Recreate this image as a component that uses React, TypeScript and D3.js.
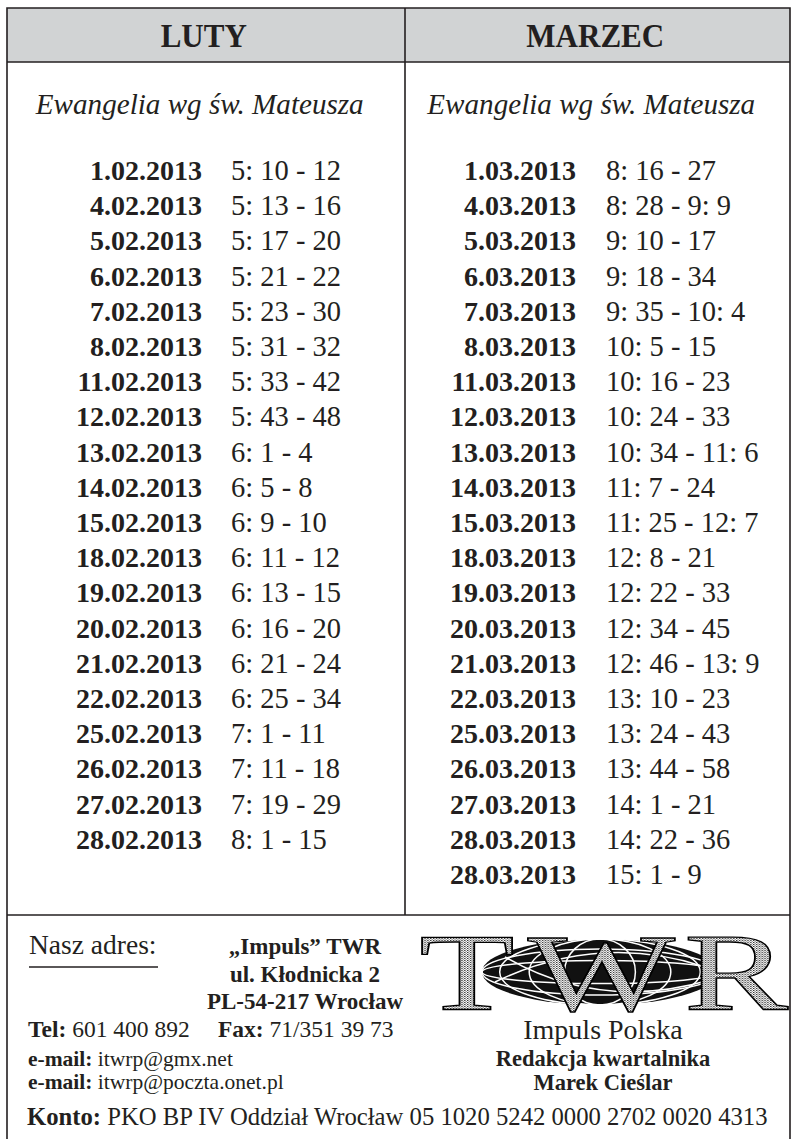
import { useEffect, useRef } from "react";
import * as d3 from "d3";

// months shown in the two table columns
const months = ["LUTY", "MARZEC"];
const subtitle = "Ewangelia wg św. Mateusza";

const lutyDates = [
  "1.02.2013", "4.02.2013", "5.02.2013", "6.02.2013", "7.02.2013", "8.02.2013",
  "11.02.2013", "12.02.2013", "13.02.2013", "14.02.2013", "15.02.2013", "18.02.2013",
  "19.02.2013", "20.02.2013", "21.02.2013", "22.02.2013", "25.02.2013", "26.02.2013",
  "27.02.2013", "28.02.2013",
];
const lutyVerses = [
  "5: 10 - 12", "5: 13 - 16", "5: 17 - 20", "5: 21 - 22", "5: 23 - 30", "5: 31 - 32",
  "5: 33 - 42", "5: 43 - 48", "6: 1 - 4", "6: 5 - 8", "6: 9 - 10", "6: 11 - 12",
  "6: 13 - 15", "6: 16 - 20", "6: 21 - 24", "6: 25 - 34", "7: 1 - 11", "7: 11 - 18",
  "7: 19 - 29", "8: 1 - 15",
];
const marzecDates = [
  "1.03.2013", "4.03.2013", "5.03.2013", "6.03.2013", "7.03.2013", "8.03.2013",
  "11.03.2013", "12.03.2013", "13.03.2013", "14.03.2013", "15.03.2013", "18.03.2013",
  "19.03.2013", "20.03.2013", "21.03.2013", "22.03.2013", "25.03.2013", "26.03.2013",
  "27.03.2013", "28.03.2013", "28.03.2013",
];
const marzecVerses = [
  "8: 16 - 27", "8: 28 - 9: 9", "9: 10 - 17", "9: 18 - 34", "9: 35 - 10: 4", "10: 5 - 15",
  "10: 16 - 23", "10: 24 - 33", "10: 34 - 11: 6", "11: 7 - 24", "11: 25 - 12: 7", "12: 8 - 21",
  "12: 22 - 33", "12: 34 - 45", "12: 46 - 13: 9", "13: 10 - 23", "13: 24 - 43", "13: 44 - 58",
  "14: 1 - 21", "14: 22 - 36", "15: 1 - 9",
];

// footer texts
const address = ["„Impuls” TWR", "ul. Kłodnicka 2", "PL-54-217 Wrocław"];
const emails = ["itwrp@gmx.net", "itwrp@poczta.onet.pl"];
const editor = ["Redakcja kwartalnika", "Marek Cieślar"];
const logoLetters = ["T", "W", "R"];

const INK = "#231f20";
const SERIF = "'Liberation Serif', 'DejaVu Serif', serif";

function App() {
  const ref = useRef(null);

  useEffect(() => {
    const svg = d3.select(ref.current);
    svg.selectAll("*").remove();
    const W = 795, H = 1139;
    const left = 7, right = 790, top = 8, headBottom = 62, mid = 405, tableBottom = 915;

    // stipple pattern for the logo letters
    const defs = svg.append("defs");
    const pat = defs.append("pattern").attr("id", "stip").attr("width", 2).attr("height", 2)
      .attr("patternUnits", "userSpaceOnUse");
    pat.append("rect").attr("width", 2).attr("height", 2).attr("fill", "#fff");
    pat.append("rect").attr("width", 1).attr("height", 1).attr("fill", "#333");
    pat.append("rect").attr("x", 1).attr("y", 1).attr("width", 1).attr("height", 1).attr("fill", "#999");

    svg.append("rect").attr("width", W).attr("height", H).attr("fill", "#fff");

    // header band
    svg.append("rect").attr("x", left).attr("y", top).attr("width", right - left)
      .attr("height", headBottom - top).attr("fill", "#d1d3d4");

    const lines = svg.append("g").attr("stroke", INK).attr("stroke-width", 1.6).attr("fill", "none");
    lines.append("path").attr("d", `M${left},${H + 5}V${top}H${right}V${H + 5}`);
    lines.append("line").attr("x1", left).attr("x2", right).attr("y1", headBottom).attr("y2", headBottom);
    lines.append("line").attr("x1", left).attr("x2", right).attr("y1", tableBottom).attr("y2", tableBottom);
    lines.append("line").attr("x1", mid).attr("x2", mid).attr("y1", top).attr("y2", tableBottom);

    const colX = d3.scaleBand().domain(months).range([left, right]).paddingInner(0);
    const centre = (m) => colX(m) + colX.bandwidth() / 2;

    const txt = svg.append("g").attr("font-family", SERIF).attr("fill", INK);

    txt.selectAll(".month").data(months).join("text")
      .attr("transform", (d) => `translate(${centre(d) + 1},47) scale(0.94,1)`)
      .attr("text-anchor", "middle").attr("font-weight", "bold").attr("font-size", 33)
      .text((d) => d);

    txt.selectAll(".sub").data(months).join("text")
      .attr("transform", (d) => `translate(${centre(d) - 3},114) scale(0.955,1)`)
      .attr("text-anchor", "middle").attr("font-style", "italic").attr("font-size", 30.5)
      .text(subtitle);

    const rowY = d3.scaleLinear().domain([0, 1]).range([180, 180 + 35.2]);

    const cols = [
      { dates: lutyDates, verses: lutyVerses, dateEnd: 202, verseStart: 231 },
      { dates: marzecDates, verses: marzecVerses, dateEnd: 576, verseStart: 606 },
    ];
    cols.forEach((c) => {
      txt.append("g").selectAll("text").data(c.dates).join("text")
        .attr("x", c.dateEnd).attr("y", (_, i) => rowY(i))
        .attr("text-anchor", "end").attr("font-weight", "bold").attr("font-size", 28)
        .text((d) => d);
      txt.append("g").selectAll("text").data(c.verses).join("text")
        .attr("x", c.verseStart).attr("y", (_, i) => rowY(i))
        .attr("font-size", 28.5)
        .text((d) => d);
    });

    // footer, left side
    txt.append("text").attr("x", 29).attr("y", 954).attr("font-size", 27.5).text("Nasz adres:");
    lines.append("line").attr("x1", 29).attr("x2", 158).attr("y1", 967).attr("y2", 967).attr("stroke-width", 1.3);

    txt.append("g").selectAll("text").data(address).join("text")
      .attr("x", 305).attr("y", (_, i) => 954 + i * 27.5)
      .attr("text-anchor", "middle").attr("font-weight", "bold").attr("font-size", 23)
      .text((d) => d);

    const tel = txt.append("text").attr("x", 28).attr("y", 1037).attr("font-size", 23.5);
    tel.append("tspan").attr("font-weight", "bold").text("Tel:");
    tel.append("tspan").text(" 601 400 892");
    const fax = txt.append("text").attr("x", 218).attr("y", 1037).attr("font-size", 23.5);
    fax.append("tspan").attr("font-weight", "bold").text("Fax:");
    fax.append("tspan").text(" 71/351 39 73");

    emails.forEach((m, i) => {
      const t = txt.append("text").attr("x", 28).attr("y", 1066 + i * 23).attr("font-size", 21.5);
      t.append("tspan").attr("font-weight", "bold").text("e-mail:");
      t.append("tspan").text(" " + m);
    });

    const konto = txt.append("text").attr("x", 27).attr("y", 1125).attr("font-size", 24.7);
    konto.append("tspan").attr("font-weight", "bold").text("Konto:");
    konto.append("tspan").text(" PKO BP IV Oddział Wrocław 05 1020 5242 0000 2702 0020 4313");

    // footer, right side: logo + editor
    const logo = svg.append("g");
    const gx = 600, gy = 972;
    logo.append("ellipse").attr("cx", gx).attr("cy", gy).attr("rx", 118).attr("ry", 33).attr("fill", "#111");
    const gl = logo.append("g").attr("stroke", "#fff").attr("stroke-width", 1.5).attr("fill", "none");
    [0.35, 0.7].forEach((k) => gl.append("ellipse").attr("cx", gx).attr("cy", gy).attr("rx", 118).attr("ry", 33 * k));
    [0.3, 0.6, 0.85].forEach((k) => gl.append("ellipse").attr("cx", gx).attr("cy", gy).attr("rx", 118 * k).attr("ry", 33));
    gl.append("path").attr("d", `M${gx - 105},${gy + 10}Q${gx},${gy - 40} ${gx + 105},${gy - 5}`);
    gl.append("path").attr("d", `M${gx - 95},${gy - 15}Q${gx},${gy + 40} ${gx + 110},${gy + 8}`);

    const letterX = d3.scalePoint().domain(logoLetters).range([467, 736]);
    logo.selectAll("text").data(logoLetters).join("text")
      .attr("transform", (d) => `translate(${letterX(d)},1010) scale(1.42,1)`)
      .attr("text-anchor", "middle").attr("font-family", SERIF).attr("font-size", 110)
      .attr("fill", "url(#stip)").attr("stroke", "#000").attr("stroke-width", 1.3)
      .text((d) => d);

    txt.append("text").attr("x", 603).attr("y", 1039).attr("text-anchor", "middle")
      .attr("font-size", 28).text("Impuls Polska");
    editor.forEach((s, i) => {
      txt.append("text").attr("x", 603).attr("y", 1066 + i * 24).attr("text-anchor", "middle")
        .attr("font-weight", "bold").attr("font-size", 22.5).text(s);
    });
  }, []);

  return (
    <svg ref={ref} width={795} height={1139}
      style={{ position: "absolute", left: 0, top: 0, display: "block" }} />
  );
}

export default App;
